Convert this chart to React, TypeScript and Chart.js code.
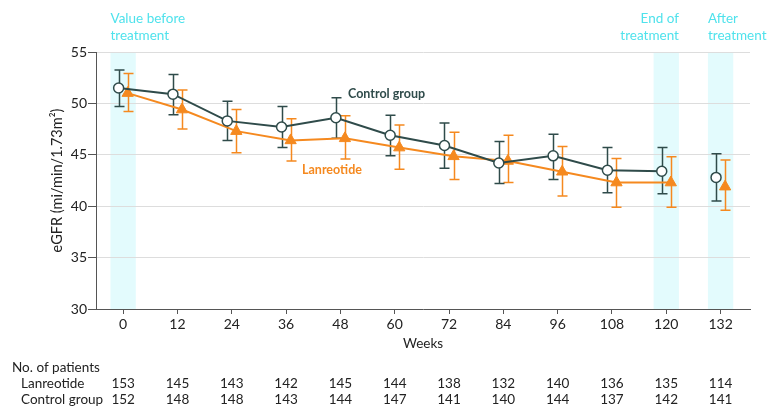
import React, { useEffect, useRef } from "react";
import { Chart, registerables } from "chart.js";

Chart.register(...registerables);

const weeks = [0, 12, 24, 36, 48, 60, 72, 84, 96, 108, 120, 132];
const controlMean = [51.5, 50.9, 48.3, 47.7, 48.6, 46.9, 45.9, 44.2, 44.9, 43.5, 43.4, 42.8];
const controlLow = [49.7, 48.9, 46.4, 45.7, 46.6, 44.9, 43.7, 42.2, 42.6, 41.3, 41.2, 40.5];
const controlHigh = [53.25, 52.8, 50.2, 49.7, 50.55, 48.85, 48.1, 46.3, 47.0, 45.7, 45.7, 45.1];
const lanMean = [51.0, 49.4, 47.3, 46.4, 46.6, 45.7, 44.85, 44.4, 43.35, 42.3, 42.3, 41.9];
const lanLow = [49.2, 47.5, 45.2, 44.4, 44.6, 43.6, 42.6, 42.3, 41.0, 39.9, 39.9, 39.6];
const lanHigh = [52.9, 51.3, 49.4, 48.5, 48.8, 47.9, 47.2, 46.9, 45.8, 44.65, 44.8, 44.5];
const lanPatients = [153, 145, 143, 142, 145, 144, 138, 132, 140, 136, 135, 114];
const controlPatients = [152, 148, 148, 143, 144, 147, 141, 140, 144, 137, 142, 141];
const shadedWeeks = [0, 120, 132];

const CONTROL = "#2f4b4a";
const ORANGE = "#f5891f";
const CYAN = "#4fe2ec";
const BAND = "rgba(218, 250, 252, 0.75)";
const FONT = "Lato";

export default function App() {
  const ref = useRef<HTMLCanvasElement | null>(null);

  useEffect(() => {
    document.body.style.margin = "0";
    document.body.style.overflow = "hidden";
    const canvas = ref.current;
    if (!canvas) return;

    const OFF = 1;
    const lastSeg = weeks.length - 2;

    const bandsPlugin = {
      id: "bands",
      beforeDraw(chart: any) {
        const { ctx, chartArea, scales } = chart;
        const x = scales.x;
        ctx.save();
        ctx.fillStyle = BAND;
        shadedWeeks.forEach((w) => {
          const l = x.getPixelForValue(w - 2.8);
          const r = x.getPixelForValue(w + 2.8);
          ctx.fillRect(l, chartArea.top, r - l, chartArea.bottom - chartArea.top);
        });
        ctx.restore();
      },
    };

    const errorPlugin = {
      id: "errbars",
      beforeDatasetsDraw(chart: any) {
        const { ctx, scales } = chart;
        const x = scales.x;
        const y = scales.y;
        const sets = [
          { lo: lanLow, hi: lanHigh, off: OFF, color: ORANGE },
          { lo: controlLow, hi: controlHigh, off: -OFF, color: CONTROL },
        ];
        ctx.save();
        ctx.lineWidth = 1.5;
        sets.forEach((s) => {
          ctx.strokeStyle = s.color;
          weeks.forEach((w, i) => {
            const px = Math.round(x.getPixelForValue(w + s.off)) + 0.5;
            const t = y.getPixelForValue(s.hi[i]);
            const b = y.getPixelForValue(s.lo[i]);
            ctx.beginPath();
            ctx.moveTo(px, t);
            ctx.lineTo(px, b);
            ctx.moveTo(px - 5, t);
            ctx.lineTo(px + 5, t);
            ctx.moveTo(px - 5, b);
            ctx.lineTo(px + 5, b);
            ctx.stroke();
          });
        });
        ctx.restore();
      },
    };

    const textPlugin = {
      id: "texts",
      afterDraw(chart: any) {
        const { ctx, scales } = chart;
        const x = scales.x;
        ctx.save();
        ctx.textBaseline = "middle";
        // annotations
        ctx.font = `13.5px ${FONT}`;
        ctx.fillStyle = CYAN;
        ctx.textAlign = "left";
        const l0 = x.getPixelForValue(0 - 2.8);
        ctx.fillText("Value before", l0, 19);
        ctx.fillText("treatment", l0, 36);
        ctx.textAlign = "right";
        const r120 = x.getPixelForValue(120 + 2.8);
        ctx.fillText("End of", r120, 19);
        ctx.fillText("treatment", r120, 36);
        ctx.textAlign = "left";
        const l132 = x.getPixelForValue(132 - 2.8);
        ctx.fillText("After", l132, 19);
        ctx.fillText("treatment", l132, 36);

        // series labels
        ctx.font = `bold 12.5px ${FONT}`;
        ctx.fillStyle = CONTROL;
        ctx.textAlign = "left";
        ctx.fillText("Control group", 348, 94);
        ctx.fillStyle = ORANGE;
        ctx.fillText("Lanreotide", 302, 170);

        // patients table
        ctx.font = `13.5px ${FONT}`;
        ctx.fillStyle = "#222";
        ctx.textAlign = "left";
        ctx.fillText("No. of patients", 12, 368);
        ctx.fillText("Lanreotide", 21, 384);
        ctx.fillText("Control group", 21, 400);
        ctx.textAlign = "center";
        weeks.forEach((w, i) => {
          const px = x.getPixelForValue(w);
          ctx.fillText(String(lanPatients[i]), px, 384);
          ctx.fillText(String(controlPatients[i]), px, 400);
        });
        ctx.restore();
      },
    };

    const segColor = (color: string) => (c: any) =>
      c.p0DataIndex === lastSeg ? "rgba(0,0,0,0)" : color;

    const chart = new Chart(canvas, {
      type: "line",
      data: {
        datasets: [
          {
            label: "Control group",
            data: weeks.map((w, i) => ({ x: w - OFF, y: controlMean[i] })),
            borderColor: CONTROL,
            borderWidth: 2,
            pointStyle: "circle",
            pointRadius: 5,
            pointBorderWidth: 1.5,
            pointBackgroundColor: "#ffffff",
            pointBorderColor: CONTROL,
            segment: { borderColor: segColor(CONTROL) },
          },
          {
            label: "Lanreotide",
            data: weeks.map((w, i) => ({ x: w + OFF, y: lanMean[i] })),
            borderColor: ORANGE,
            borderWidth: 2,
            pointStyle: "triangle",
            pointRadius: 6.5,
            pointBorderWidth: 1,
            pointBackgroundColor: ORANGE,
            pointBorderColor: ORANGE,
            segment: { borderColor: segColor(ORANGE) },
          },
        ],
      },
      options: {
        responsive: false,
        animation: false,
        layout: { padding: { top: 52, right: 30, bottom: 66, left: 0 } },
        plugins: {
          legend: { display: false },
          tooltip: { enabled: false },
          title: { display: false },
        },
        scales: {
          x: {
            type: "linear",
            min: -6,
            max: 138.5,
            afterBuildTicks: (s: any) => {
              s.ticks = weeks.map((w) => ({ value: w }));
            },
            afterFit: (s: any) => {
              s.height = 43;
            },
            grid: {
              drawOnChartArea: false,
              drawTicks: true,
              tickLength: 5,
              tickColor: "#555",
            },
            border: { color: "#555", width: 1 },
            ticks: {
              font: { family: FONT, size: 14 },
              color: "#222",
              padding: 2,
              maxRotation: 0,
              autoSkip: false,
            },
            title: {
              display: true,
              text: "Weeks",
              font: { family: FONT, size: 13.5 },
              color: "#222",
              padding: { top: 0, bottom: 0 },
            },
          },
          y: {
            min: 30,
            max: 55,
            afterFit: (s: any) => {
              s.width = 96;
            },
            ticks: {
              stepSize: 5,
              font: { family: FONT, size: 14 },
              color: "#222",
              padding: 1,
            },
            grid: {
              color: "#dddddd",
              lineWidth: 1,
              drawTicks: true,
              tickLength: 8,
              tickColor: "#555",
            },
            border: { color: "#555", width: 1 },
            title: {
              display: true,
              text: "eGFR (mi/min/1.73m²)",
              font: { family: FONT, size: 14.5 },
              color: "#222",
              padding: { top: 49, bottom: 0 },
            },
          },
        },
      },
      plugins: [bandsPlugin, errorPlugin, textPlugin],
    } as any);

    return () => chart.destroy();
  }, []);

  return <canvas ref={ref} width={780} height={418} style={{ display: "block" }} />;
}
